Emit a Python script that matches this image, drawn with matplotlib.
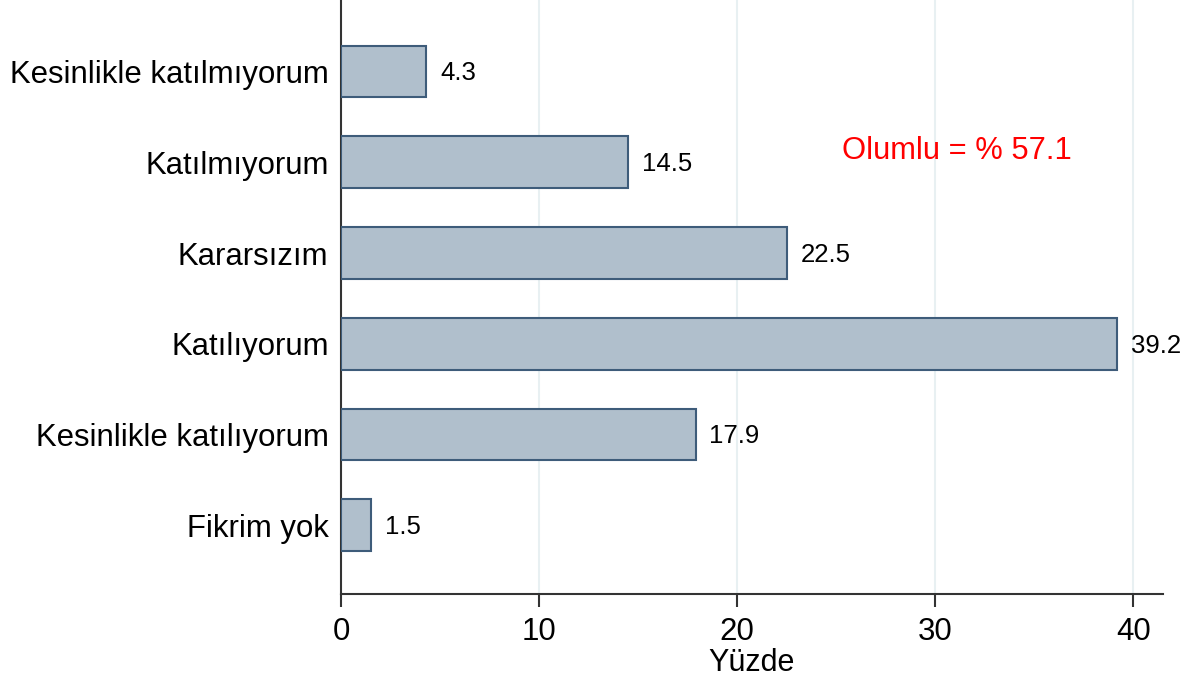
import matplotlib.pyplot as plt

plt.rcParams['font.family'] = ['Liberation Sans', 'DejaVu Sans']

categories = ["Kesinlikle katılmıyorum", "Katılmıyorum", "Kararsızım",
              "Katılıyorum", "Kesinlikle katılıyorum", "Fikrim yok"]
values = [4.3, 14.5, 22.5, 39.2, 17.9, 1.5]
x_ticks = [0, 10, 20, 30, 40]
note = "Olumlu = % 57.1"

fig = plt.figure(figsize=(11.9, 6.81), dpi=100)
ax = fig.add_axes([341 / 1190, 1 - 594 / 681, (1163 - 341) / 1190, 594 / 681])

pos = list(range(len(categories)))
ax.barh(pos, values, height=0.57, color="#b0bfcc", edgecolor="#3e5c7a", linewidth=1.5, zorder=3)
for p, v in zip(pos, values):
    ax.text(v + 0.7, p + 0.02, f"{v:.1f}", va="center", ha="left", fontsize=18.5, color="black")

ax.set_ylim(len(categories) - 1 + 0.76, -0.79)
ax.set_xlim(0, 41.5)
ax.set_yticks(pos)
ax.set_yticklabels(categories, fontsize=22.4)
ax.set_xticks(x_ticks)
ax.tick_params(axis="x", labelsize=22.5, length=9, width=1.5, color="#333333", pad=7.5)
ax.tick_params(axis="y", length=0, pad=9)
ax.xaxis.grid(True, color="#e8f0f2", linewidth=1.5, zorder=0)

for s in ["top", "right"]:
    ax.spines[s].set_visible(False)
for s in ["left", "bottom"]:
    ax.spines[s].set_color("#333333")
    ax.spines[s].set_linewidth(1.5)

ax.set_xlabel("Yüzde", fontsize=22, labelpad=1)
ax.text(31.1, 0.88, note, color="red", fontsize=22.2, ha="center", va="center")

fig.savefig("out.png", dpi=100)
